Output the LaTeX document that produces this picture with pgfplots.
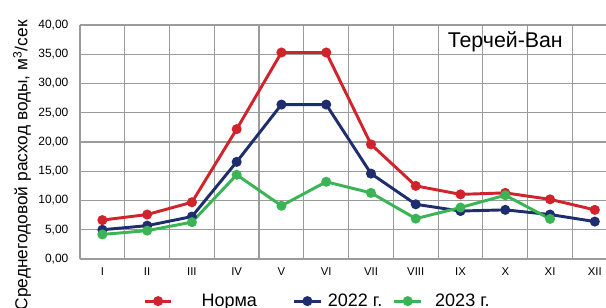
\documentclass[border=0pt]{standalone}
\usepackage{pgfplots}
\pgfplotsset{compat=1.18}
\usepackage{fontspec}
\setmainfont{Liberation Sans}
\definecolor{cred}{RGB}{208,35,43}
\definecolor{cnavy}{RGB}{30,45,110}
\definecolor{cgreen}{RGB}{58,180,85}
\definecolor{cgrid}{RGB}{155,155,155}
\begin{document}
\begin{tikzpicture}
\useasboundingbox (-60pt,-36pt) rectangle (394.5pt,194.25pt);
\clip (-60pt,-36pt) rectangle (394.5pt,194.25pt);
\begin{axis}[
  at={(0pt,0pt)}, anchor=south west,
  scale only axis, width=394.5pt, height=175.5pt,
  xmin=0, xmax=11.75, ymin=0, ymax=40,
  axis line style={draw=none},
  xtick={0.5,1.5,2.5,3.5,4.5,5.5,6.5,7.5,8.5,9.5,10.5,11.5},
  xticklabels={I,II,III,IV,V,VI,VII,VIII,IX,X,XI,XII},
  minor xtick={0,1,2,3,4,5,6,7,8,9,10,11},
  xminorgrids=true,
  ytick={0,5,10,15,20,25,30,35,40},
  ymajorgrids=true,
  major tick length=0pt, minor tick length=0pt,
  grid style={draw=cgrid, line width=0.9pt},
  minor grid style={draw=cgrid, line width=0.9pt},
  yticklabel style={font=\fontsize{9}{10}\selectfont, inner sep=0pt, xshift=-8.5pt,
    /pgf/number format/.cd, fixed, fixed zerofill, precision=2, use comma, assume math mode=true},
  xticklabel style={font=\fontsize{8.5}{10}\selectfont, inner sep=0pt, yshift=-6pt},
  ylabel={Среднегодовой расход воды, м\textsuperscript{3}/сек},
  ylabel style={at={(axis description cs:-0.11,1.021)}, anchor=east, inner sep=0pt,
    font=\fontsize{13}{15}\selectfont},
  legend columns=3,
  legend style={at={(axis description cs:0.1198,-0.18)}, anchor=west, draw=none, fill=none,
    inner sep=0pt, font=\fontsize{13.5}{15}\selectfont,
    /tikz/every even column/.append style={column sep=0pt}},
  legend image code/.code={\draw[mark repeat=2,mark phase=2,#1] plot coordinates {(0pt,0pt) (10pt,0pt) (20pt,0pt)};},
  every axis plot/.append style={line width=2.2pt, mark=*, mark size=2.6pt, mark options={solid}},
  clip=false,
]
\addplot[color=cred] coordinates {
(0.5,6.65) (1.5,7.6) (2.5,9.7) (3.5,22.2) (4.5,35.3) (5.5,35.3)
(6.5,19.6) (7.5,12.5) (8.5,11.05) (9.5,11.3) (10.5,10.2) (11.5,8.4)};
\addlegendentry{\hspace{19.5pt}Норма\kern24.75pt\null}
\addplot[color=cnavy] coordinates {
(0.5,5.0) (1.5,5.7) (2.5,7.25) (3.5,16.6) (4.5,26.4) (5.5,26.4)
(6.5,14.6) (7.5,9.35) (8.5,8.2) (9.5,8.4) (10.5,7.6) (11.5,6.4)};
\addlegendentry{\hspace{2.25pt}2022 г.\kern6pt\null}
\addplot[color=cgreen] coordinates {
(0.5,4.2) (1.5,4.85) (2.5,6.3) (3.5,14.4) (4.5,9.1) (5.5,13.2)
(6.5,11.3) (7.5,6.9) (8.5,8.8) (9.5,10.9) (10.5,6.85)};
\addlegendentry{\hspace{7.5pt}2023 г.}
\node[anchor=base, font=\fontsize{16}{18}\selectfont] at (axis cs:9.5,36.2) {Терчей-Ван};
\end{axis}
\end{tikzpicture}
\end{document}
